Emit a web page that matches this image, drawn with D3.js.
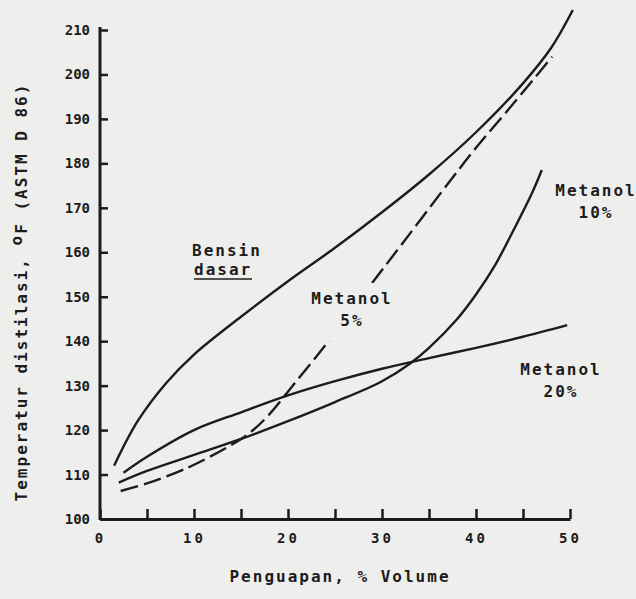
<!DOCTYPE html>
<html>
<head>
<meta charset="utf-8">
<script src="https://cdn.jsdelivr.net/npm/d3@7.9.0/dist/d3.min.js"></script>
<style>
  html, body { margin: 0; padding: 0; background: #eeeeec; }
  svg { display: block; }
  .lbl { font-family: "DejaVu Sans Mono", monospace; font-weight: bold; font-size: 16px; letter-spacing: 2px; fill: #1c1c1c; }
  .tick text { font-family: "DejaVu Sans Mono", monospace; font-weight: bold; font-size: 14px; fill: #1c1c1c; }
</style>
</head>
<body>
<svg id="chart" width="636" height="599"></svg>
<script>
// data: x = % volume evaporated, y = temperature in °F
const bensinX = [1.5, 4, 7, 10, 15, 20, 25, 30, 35, 40, 45, 48, 50.3];
const bensinY = [112, 122, 130.5, 137, 145.5, 153.5, 161, 169, 177.5, 187, 198, 206, 214.5];

const met5X = [2.2, 5, 8.3, 10, 13.6, 16, 18, 20.5, 24.5, 28.2, 32, 36.5, 40, 44, 48.1];
const met5Y = [106.3, 108, 110.6, 112.2, 116.2, 119.5, 123.5, 130, 140.5, 151, 161.5, 174, 183.5, 193.5, 204];

const met10X = [2, 5, 10, 15, 20, 25, 30, 33, 35, 38, 40, 42, 44, 46, 47];
const met10Y = [108.2, 110.8, 114.4, 118, 122, 126.3, 131, 135, 138.5, 145, 150.5, 157, 165, 173.5, 178.5];

const met20X = [2.5, 5, 10, 15, 20, 25, 30, 35, 40, 45, 49.7];
const met20Y = [110.4, 114, 120, 124, 127.8, 131, 133.8, 136.2, 138.5, 141, 143.6];

const xTicks = [0, 5, 10, 15, 20, 25, 30, 35, 40, 45, 50];
const yTicks = [100, 110, 120, 130, 140, 150, 160, 170, 180, 190, 200, 210];

const svg = d3.select('#chart');
const ink = '#1c1c1c';
const paper = '#eeeeec';

const x = d3.scaleLinear().domain([0, 50]).range([100, 570]);
const y = d3.scaleLinear().domain([100, 210]).range([519, 30]);

// axes (ticks point inwards like the original)
const xAxis = d3.axisBottom(x)
  .tickValues(xTicks)
  .tickSizeInner(-10)
  .tickSizeOuter(0)
  .tickPadding(14)
  .tickFormat(d => d % 10 === 0 ? d : '');

const yAxis = d3.axisLeft(y)
  .tickValues(yTicks)
  .tickSizeInner(-8)
  .tickSizeOuter(0)
  .tickPadding(10);

const gx = svg.append('g').attr('transform', 'translate(0,519)').call(xAxis);
const gy = svg.append('g').attr('transform', 'translate(100,0)').call(yAxis);

[gx, gy].forEach(g => {
  g.select('.domain').attr('stroke', ink).attr('stroke-width', 3);
  g.selectAll('.tick line').attr('stroke', ink).attr('stroke-width', 2.5);
});
gx.selectAll('.tick text').attr('letter-spacing', '3px');
gy.select('.domain').attr('d', 'M0,27V520');

// curves
const line = d3.line()
  .x(d => x(d[0]))
  .y(d => y(d[1]))
  .curve(d3.curveCatmullRom.alpha(0.5));

const series = [
  { xs: bensinX, ys: bensinY, dash: null },
  { xs: met20X, ys: met20Y, dash: null },
  { xs: met10X, ys: met10Y, dash: null },
  { xs: met5X, ys: met5Y, dash: '18,6' }
];

series.forEach(s => {
  svg.append('path')
    .datum(d3.zip(s.xs, s.ys))
    .attr('d', line)
    .attr('fill', 'none')
    .attr('stroke', ink)
    .attr('stroke-width', 2.4)
    .attr('stroke-dasharray', s.dash);
});

// curve labels
function label(lines, cx, y0, mask) {
  const g = svg.append('g');
  if (mask) {
    g.append('rect')
      .attr('x', mask[0]).attr('y', mask[1])
      .attr('width', mask[2]).attr('height', mask[3])
      .attr('fill', paper);
  }
  lines.forEach((t, i) => {
    g.append('text')
      .attr('class', 'lbl')
      .attr('x', cx)
      .attr('y', y0 + i * 22)
      .attr('text-anchor', 'middle')
      .text(t);
  });
  return g;
}

svg.append('text').attr('class', 'lbl').attr('x', 192).attr('y', 256).text('Bensin');
svg.append('text').attr('class', 'lbl').attr('x', 194).attr('y', 275).text('dasar');
svg.append('line')
  .attr('x1', 194).attr('x2', 252).attr('y1', 279).attr('y2', 279)
  .attr('stroke', ink).attr('stroke-width', 1.5);

label(['Metanol', '5%'], 352, 304, [306, 283, 92, 58]);
label(['Metanol', '10%'], 596, 196);
label(['Metanol', '20%'], 561, 375);

// axis titles
svg.append('text')
  .attr('class', 'lbl')
  .attr('x', 340)
  .attr('y', 582)
  .attr('text-anchor', 'middle')
  .text('Penguapan, % Volume');

const yt = svg.append('text')
  .attr('class', 'lbl')
  .attr('transform', 'translate(27,292) rotate(-90)')
  .attr('text-anchor', 'middle');
yt.append('tspan').text('Temperatur distilasi, ');
yt.append('tspan').attr('dy', -5).text('o');
yt.append('tspan').attr('dy', 5).text('F (ASTM D  86)');
</script>
</body>
</html>
